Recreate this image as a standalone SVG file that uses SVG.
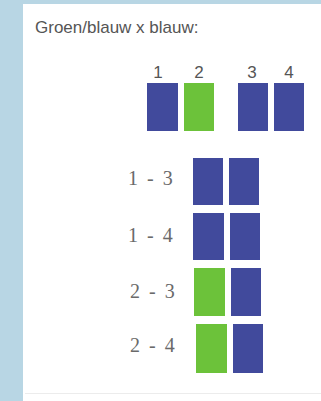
<svg xmlns="http://www.w3.org/2000/svg" width="321" height="401" viewBox="0 0 321 401">
<style>
.b{fill:#414a9c}
.g{fill:#6cc23a}
.num{font-family:"Liberation Sans",Arial,sans-serif;font-size:17px;fill:#555;text-anchor:middle}
.lbl{font-family:"Liberation Serif","Times New Roman",serif;font-size:20px;fill:#6a6a6a;word-spacing:4px}
.title{font-family:"Liberation Sans",Arial,sans-serif;font-size:17px;fill:#555}
</style>
<rect x="0" y="0" width="321" height="401" fill="#fff"/>
<rect x="0" y="0" width="321" height="4" fill="#b8d6e4"/>
<rect x="0" y="0" width="23" height="401" fill="#b8d6e4"/>
<line x1="25" y1="393.5" x2="321" y2="393.5" stroke="#ececec" stroke-width="1"/>
<text class="title" x="35" y="33">Groen/blauw x blauw:</text>
<g id="top">
<text class="num" x="158" y="78">1</text>
<text class="num" x="199" y="78">2</text>
<text class="num" x="252" y="78">3</text>
<text class="num" x="289" y="78">4</text>
<rect class="b" x="147" y="83" width="31" height="48"/>
<rect class="g" x="184" y="83" width="30" height="48"/>
<rect class="b" x="238" y="83" width="30" height="48"/>
<rect class="b" x="274" y="83" width="30" height="48"/>
</g>
<g id="row1">
<text class="lbl" x="128" y="185">1 - 3</text>
<rect class="b" x="193" y="158" width="30" height="47"/>
<rect class="b" x="229" y="158" width="30" height="47"/>
</g>
<g id="row2">
<text class="lbl" x="128" y="242">1 - 4</text>
<rect class="b" x="193" y="213" width="31" height="47"/>
<rect class="b" x="230" y="213" width="30" height="47"/>
</g>
<g id="row3">
<text class="lbl" x="130" y="298">2 - 3</text>
<rect class="g" x="194" y="268" width="31" height="48"/>
<rect class="b" x="231" y="268" width="30" height="48"/>
</g>
<g id="row4">
<text class="lbl" x="130" y="352">2 - 4</text>
<rect class="g" x="196" y="324" width="31" height="49"/>
<rect class="b" x="233" y="324" width="30" height="49"/>
</g>
<g id="connectors"/>
</svg>
